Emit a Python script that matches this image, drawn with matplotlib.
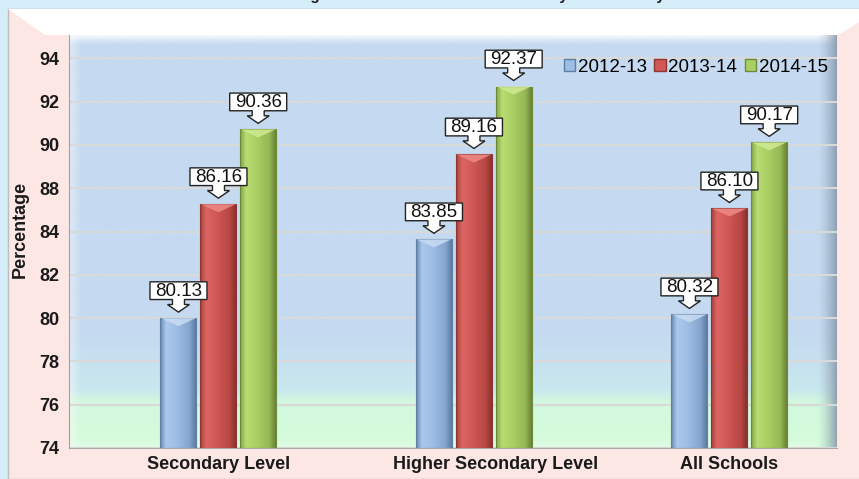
import numpy as np
import matplotlib
matplotlib.use('Agg')
import matplotlib.pyplot as plt
from matplotlib import transforms
from matplotlib.patches import Polygon, Rectangle, Patch
from matplotlib.colors import to_rgb

plt.rcParams['font.family'] = ['Liberation Sans', 'DejaVu Sans']

# data
categories = ['Secondary Level', 'Higher Secondary Level', 'All Schools']
years = ['2012-13', '2013-14', '2014-15']
# bar heights as drawn
h_1213 = [80.0, 83.64, 80.17]
h_1314 = [86.53, 89.56, 86.13]
h_1415 = [90.72, 92.7, 90.12]
# values printed in the callouts
v_1213 = [80.13, 83.85, 80.32]
v_1314 = [86.16, 89.16, 86.10]
v_1415 = [90.36, 92.37, 90.17]
y_ticks = [74, 76, 78, 80, 82, 84, 88, 90, 92, 94]

W, H = 859, 479


def fx(px):
    return px / W


def fy(py):
    return 1 - py / H


def ramp(stops, n=100):
    pos = np.array([s[0] for s in stops])
    cols = np.array([to_rgb(s[1]) for s in stops])
    t = np.linspace(0, 1, n)
    return np.stack([np.interp(t, pos, cols[:, k]) for k in range(3)], axis=1)


fig = plt.figure(figsize=(W / 100, H / 100), dpi=100, facecolor='#d5ecf9')

# chart area frame
fig.add_artist(Rectangle((fx(8), 0), 1, fy(9), transform=fig.transFigure,
                         facecolor='#fde7e5', edgecolor='#bdbdbd', lw=1, zorder=-2))
top_band = [(8, 9), (859, 9), (859, 22), (838, 35), (45, 35)]
fig.add_artist(Polygon([(fx(a), fy(b)) for a, b in top_band], closed=True, zorder=-1,
                       transform=fig.transFigure, facecolor='white', edgecolor='none'))

ax = fig.add_axes([fx(69), fy(448), fx(837) - fx(69), fy(35) - fy(448)])

# piecewise scale so the ticks sit where the picture has them
sc_vals = np.array([60] + y_ticks + [110], dtype=float)
sc_idx = np.array([-7] + list(range(len(y_ticks))) + [17], dtype=float)


def fwd(v):
    return np.interp(v, sc_vals, sc_idx)


def inv(i):
    return np.interp(i, sc_idx, sc_vals)


ax.set_yscale('function', functions=(fwd, inv))
ax.set_xlim(-0.585, 2.421)
ax.set_ylim(74, 95.08)
ax.set_autoscale_on(False)

# plot wall background
bg = ramp([(0, '#c5daf0'), (0.72, '#c5daf0'), (0.86, '#c9e8ee'), (0.89, '#d2f8de'), (1, '#d6fcdc')], 300)
ax.imshow(bg[:, None, :], extent=(0, 1, 0, 1), transform=ax.transAxes,
          aspect='auto', zorder=0, origin='upper')
# bevels of the wall
top = np.zeros((20, 1, 4))
top[:, 0, :3] = 1.0
top[:, 0, 3] = np.linspace(0.9, 0.0, 20)
ax.imshow(top, extent=(0, 1, 0.975, 1), transform=ax.transAxes, aspect='auto', zorder=0.1, origin='upper')
right = np.zeros((1, 30, 4))
right[0, :, :3] = to_rgb('#8595a8')
right[0, :, 3] = np.linspace(0, 0.9, 30) ** 1.5
ax.imshow(right, extent=(0.974, 1, 0, 1), transform=ax.transAxes, aspect='auto', zorder=0.1)
left = np.zeros((1, 20, 4))
left[0, :, :3] = 1.0
left[0, :, 3] = np.linspace(0.45, 0, 20)
ax.imshow(left, extent=(0, 0.016, 0, 1), transform=ax.transAxes, aspect='auto', zorder=0.1)
floor = np.zeros((10, 1, 4))
floor[:, 0, :3] = to_rgb('#e6fde9')
floor[:, 0, 3] = np.linspace(0, 0.8, 10)
ax.imshow(floor, extent=(0, 0.975, 0, 0.02), transform=ax.transAxes, aspect='auto', zorder=0.1, origin='upper')

ax.yaxis.grid(True, color='#d9d9d9', lw=1.5)
ax.set_axisbelow(True)

ax.set_yticks(y_ticks)
ax.set_yticklabels([str(t) for t in y_ticks], fontsize=13, fontweight='bold', color='#1a1a1a')
ax.set_xticks(range(len(categories)))
ax.set_xticklabels(categories, fontsize=13, fontweight='bold', color='#1a1a1a')
ax.tick_params(length=0)
ax.tick_params(axis='y', pad=7)
ax.tick_params(axis='x', pad=6)
lbl = ax.get_xticklabels()[1]
lbl.set_transform(lbl.get_transform() + transforms.ScaledTranslation(0.22, 0, fig.dpi_scale_trans))
ax.set_ylabel('Percentage', fontsize=13, fontweight='bold', color='#1a1a1a')
ax.yaxis.set_label_coords(-0.052, 0.528)

for s in ['top', 'right']:
    ax.spines[s].set_visible(False)
ax.spines['left'].set_color('#a0a0a0')
ax.spines['bottom'].set_color('#a8a8a8')

series = [
    (h_1213, v_1213, ['#6f8fb8', '#abc8ec', '#9ebde3', '#86a6cf', '#5b7aa0'], '#5d7ea6', '#c8dcf3'),
    (h_1314, v_1314, ['#a94441', '#dc6562', '#d05855', '#b84845', '#8a302e'], '#8e3431', '#ee8b87'),
    (h_1415, v_1415, ['#87a94a', '#b8db72', '#aacf64', '#96b955', '#687f32'], '#6b8a37', '#d0ea92'),
]
offsets = [-0.1565, 0, 0.1555]
width = 0.141
blend = transforms.blended_transform_factory(ax.transData, ax.transAxes)

for (hts, vals, stops, dark, light), off in zip(series, offsets):
    grad = ramp(list(zip([0, 0.15, 0.45, 0.8, 1], stops)), 60)[None, :, :]
    for j, (h, v) in enumerate(zip(hts, vals)):
        xc = j + off
        bar = ax.bar(xc, h - 74, bottom=74, width=width, facecolor='none',
                     edgecolor=dark, lw=0.8, zorder=3)[0]
        im = ax.imshow(grad, extent=(xc - width / 2, xc + width / 2, 0, 1), transform=blend,
                       aspect='auto', zorder=2.5)
        im.set_clip_path(bar)
        at = transforms.Affine2D() + transforms.ScaledTranslation(xc, h, ax.transData)
        ax.add_patch(Polygon([(-17.5, 0), (17.5, 0), (0, -8)], closed=True, transform=at,
                             facecolor=light, edgecolor='none', alpha=0.85, zorder=3.2))
        call = [(0, 6), (11, 13.6), (6, 13.6), (6, 18.6), (28.5, 18.6), (28.5, 36.3),
                (-28.5, 36.3), (-28.5, 18.6), (-6, 18.6), (-6, 13.6), (-11, 13.6)]
        ax.add_patch(Polygon(call, closed=True, transform=at, facecolor='white',
                             edgecolor='#222222', lw=1, zorder=5))
        ax.text(0, 27.0, '%.2f' % v, transform=at, ha='center', va='center',
                fontsize=13.5, color='#111111', zorder=6)

handles = [Patch(facecolor=s[2][2], edgecolor=s[3]) for s in series]
ax.legend(handles, years, ncol=3, loc='center right', bbox_to_anchor=(0.988, 0.922),
          frameon=False, fontsize=13.5, handlelength=0.6, handleheight=0.6,
          handletextpad=0.15, columnspacing=0.4, borderpad=0, borderaxespad=0)

fig.text(fx(246), 1.0, 'Percentage of Students Passed in Exams by Level and by Year',
         fontsize=11, fontweight='bold', va='baseline', ha='left', color='#1a1a1a')

fig.savefig('out.png', dpi=100, facecolor=fig.get_facecolor())
